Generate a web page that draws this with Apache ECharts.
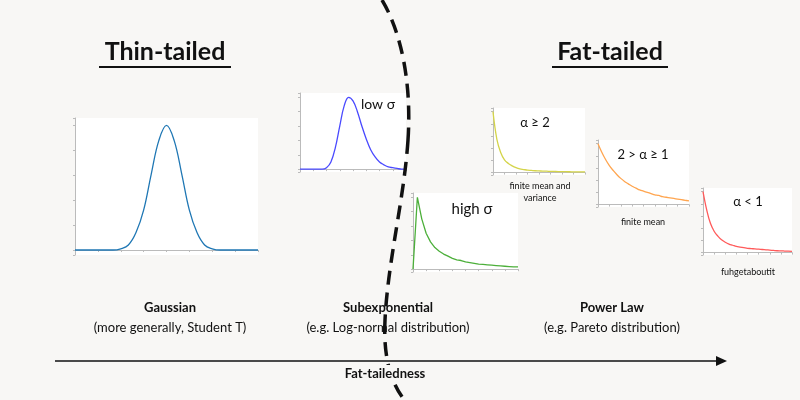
<!DOCTYPE html>
<html><head><meta charset="utf-8">
<script src="https://cdn.jsdelivr.net/npm/echarts@6/dist/echarts.min.js"></script>
<style>html,body{margin:0;padding:0;background:#f8f7f5}#c{width:800px;height:400px}</style>
</head><body><div id="c"></div>
<script>
// estimated curve heights (25 samples per panel)
var gaussian = [0,0,0,0,0,0,0.01,0.04,0.14,0.32,0.61,0.88,1,0.88,0.61,0.32,0.14,0.04,0.01,0,0,0,0,0,0];
var lowSigma = [0,0,0,0,0,0,0.02,0.1,0.3,0.6,0.88,1,0.95,0.8,0.6,0.42,0.27,0.17,0.1,0.06,0.03,0.02,0.01,0,0];
var highSigma = [0,1,0.7,0.5,0.38,0.3,0.25,0.21,0.18,0.15,0.13,0.12,0.1,0.09,0.08,0.07,0.065,0.06,0.055,0.05,0.045,0.04,0.035,0.03,0.03];
var alphaGe2 = [1,0.55,0.33,0.21,0.15,0.11,0.08,0.06,0.05,0.04,0.035,0.03,0.027,0.024,0.022,0.02,0.018,0.016,0.015,0.014,0.013,0.012,0.011,0.01,0.01];
var alpha1to2 = [1,0.86,0.74,0.64,0.56,0.49,0.43,0.38,0.34,0.3,0.27,0.24,0.22,0.2,0.18,0.16,0.15,0.13,0.12,0.11,0.1,0.09,0.08,0.07,0.06];
var alphaLt1 = [1,0.7,0.48,0.35,0.27,0.21,0.17,0.14,0.12,0.1,0.09,0.08,0.07,0.065,0.06,0.055,0.05,0.045,0.04,0.035,0.03,0.028,0.025,0.022,0.02];

var panels = [
  {data: gaussian, color: '#1f77b4', left: 75, top: 118, width: 183, height: 137, smooth: true},
  {data: lowSigma, color: '#4a4aff', left: 300, top: 93, width: 106, height: 79, smooth: true},
  {data: highSigma, color: '#4caf3a', left: 413, top: 193, width: 105, height: 79, smooth: false},
  {data: alphaGe2, color: '#d4d44a', left: 493, top: 108, width: 92, height: 67, smooth: true},
  {data: alpha1to2, color: '#ffa54f', left: 598, top: 140, width: 91, height: 67, smooth: true},
  {data: alphaLt1, color: '#ff5a5a', left: 703, top: 188, width: 89, height: 67, smooth: true}
];
var font = 'Lato';
var chart = echarts.init(document.getElementById('c'));
var grids = [], xs = [], ys = [], series = [];
panels.forEach(function (p, i) {
  grids.push({left: p.left, top: p.top, width: p.width, height: p.height, show: true,
    backgroundColor: '#fff', borderWidth: 0});
  var axLine = {show: true, lineStyle: {color: '#bbb', width: 1}};
  xs.push({type: 'category', gridIndex: i, boundaryGap: false, data: p.data.map(function (v, k) { return k; }),
    axisLine: axLine, axisTick: {show: true, interval: 2, length: 2, lineStyle: {color: '#bbb'}}, axisLabel: {show: false}});
  ys.push({type: 'value', gridIndex: i, min: -0.04, max: 1.06, splitLine: {show: false},
    axisLine: axLine, axisTick: {show: true, length: 2, lineStyle: {color: '#bbb'}}, axisLabel: {show: false}});
  series.push({type: 'line', xAxisIndex: i, yAxisIndex: i, data: p.data, smooth: p.smooth ? 0.4 : false, symbol: 'none',
    lineStyle: {color: p.color, width: 1.3}});
});
function txt(x, y, s, size, bold) {
  return {type: 'text', x: x, y: y, z: 10, style: {text: s, fontFamily: font, fontSize: size,
    fontWeight: bold ? 'bold' : 'normal', fill: '#111', align: 'center', verticalAlign: 'middle'}};
}
function dash(x1, y1, c1x, c1y, c2x, c2y, x2, y2) {
  return {type: 'bezierCurve', z: 5, shape: {x1: x1, y1: y1, cpx1: c1x, cpy1: c1y, cpx2: c2x, cpy2: c2y, x2: x2, y2: y2},
    style: {stroke: '#111', lineWidth: 3.5, fill: null, lineDash: [14, 8]}};
}
chart.setOption({
  backgroundColor: '#f8f7f5',
  animation: false,
  grid: grids, xAxis: xs, yAxis: ys, series: series,
  graphic: [
    txt(165, 52, 'Thin-tailed', 25, true),
    {type: 'line', shape: {x1: 99, y1: 67, x2: 231, y2: 67}, style: {stroke: '#111', lineWidth: 2}},
    txt(610, 52, 'Fat-tailed', 25, true),
    {type: 'line', shape: {x1: 552, y1: 67, x2: 668, y2: 67}, style: {stroke: '#111', lineWidth: 2}},
    txt(378, 104, 'low σ', 14),
    txt(472, 209, 'high σ', 15),
    txt(535, 123, 'α ≥ 2', 13),
    txt(643, 155, '2 > α ≥ 1', 13),
    txt(748, 202, 'α < 1', 13),
    txt(540, 186, 'finite mean and', 9),
    txt(540, 198, 'variance', 9),
    txt(643, 222, 'finite mean', 9),
    txt(748, 272, 'fuhgetaboutit', 9),
    txt(170, 308, 'Gaussian', 13, true),
    txt(170, 328, '(more generally, Student T)', 13),
    txt(388, 308, 'Subexponential', 13, true),
    txt(388, 328, '(e.g. Log-normal distribution)', 13),
    txt(612, 308, 'Power Law', 13, true),
    txt(612, 328, '(e.g. Pareto distribution)', 13),
    {type: 'line', shape: {x1: 55, y1: 361, x2: 718, y2: 361}, style: {stroke: '#111', lineWidth: 1.5}},
    {type: 'polygon', shape: {points: [[727, 361], [716, 356], [716, 366]]}, style: {fill: '#111'}},
    dash(382, 0, 400, 30, 412, 80, 408, 140),
    dash(408, 140, 404, 200, 388, 260, 385, 320),
    dash(385, 320, 383, 360, 392, 385, 406, 402),
    {type: 'rect', z: 8, shape: {x: 345, y: 365, width: 80, height: 18}, style: {fill: '#f8f7f5'}},
    txt(385, 374, 'Fat-tailedness', 13, true)
  ]
});
</script></body></html>
